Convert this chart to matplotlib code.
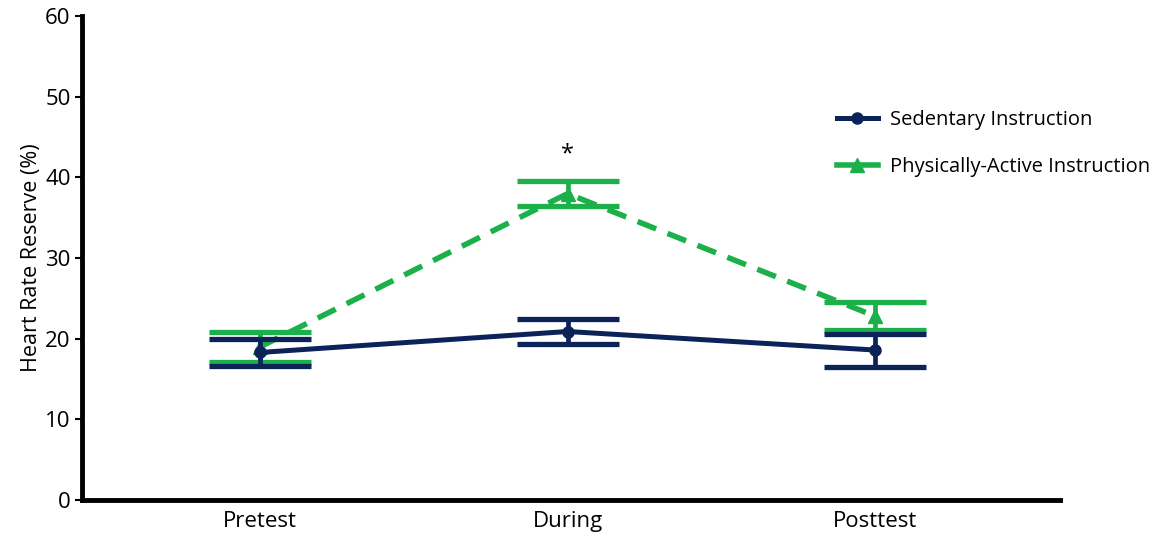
import matplotlib.pyplot as plt
from matplotlib.lines import Line2D
import numpy as np

plt.rcParams['font.family'] = ['Open Sans', 'DejaVu Sans']

# Rata-rata dan galat baku per sesi
sesi = ['Pretest', 'During', 'Posttest']
sedentary_mean = [18.3, 20.9, 18.6]
sedentary_err = [1.65, 1.55, 2.05]
active_mean = [19.0, 38.0, 22.8]
active_err = [1.85, 1.55, 1.7]

navy = '#0c2359'
hijau = '#1cb04b'
garis_putus = (0, (3.6, 2.2))

fig = plt.figure(figsize=(11.67, 5.4), dpi=100)
ax = fig.add_axes([0.070, 0.074, 0.838, 0.896])

x = np.arange(len(sesi))

ax.errorbar(x, sedentary_mean, yerr=sedentary_err, color=navy, lw=3.6,
            marker='o', ms=8, capsize=37, capthick=3.8, elinewidth=3.4,
            zorder=3)
ax.errorbar(x, active_mean, yerr=active_err, color=hijau, lw=4.0,
            ls=garis_putus, marker='^', ms=10, capsize=37, capthick=3.8,
            elinewidth=3.4, zorder=2)

ax.text(1, 41.4, '*', ha='center', va='bottom', fontsize=17)

ax.set_xlim(-0.58, 2.6)
ax.set_ylim(0, 60)
ax.set_yticks(range(0, 61, 10))
ax.set_xticks(x)
ax.set_xticklabels(sesi)
ax.tick_params(axis='x', length=0, labelsize=16, pad=8)
ax.tick_params(axis='y', length=5, width=1.5, labelsize=16, pad=3)
ax.set_ylabel('Heart Rate Reserve (%)', fontsize=15.5, labelpad=2)

for s in ['top', 'right']:
    ax.spines[s].set_visible(False)
for s in ['left', 'bottom']:
    ax.spines[s].set_linewidth(3.5)

# Legenda dengan garis sederhana tanpa cap
handles = [
    Line2D([], [], color=navy, lw=3.6, marker='o', ms=8),
    Line2D([], [], color=hijau, lw=4.0, marker='^', ms=10),
]
labels = ['Sedentary Instruction', 'Physically-Active Instruction']
fig.legend(handles, labels, loc='upper left', bbox_to_anchor=(0.702, 0.83),
           frameon=False, fontsize=14.5, handlelength=2.0, handletextpad=0.6,
           labelspacing=1.35)

fig.savefig('out.png', dpi=100)
